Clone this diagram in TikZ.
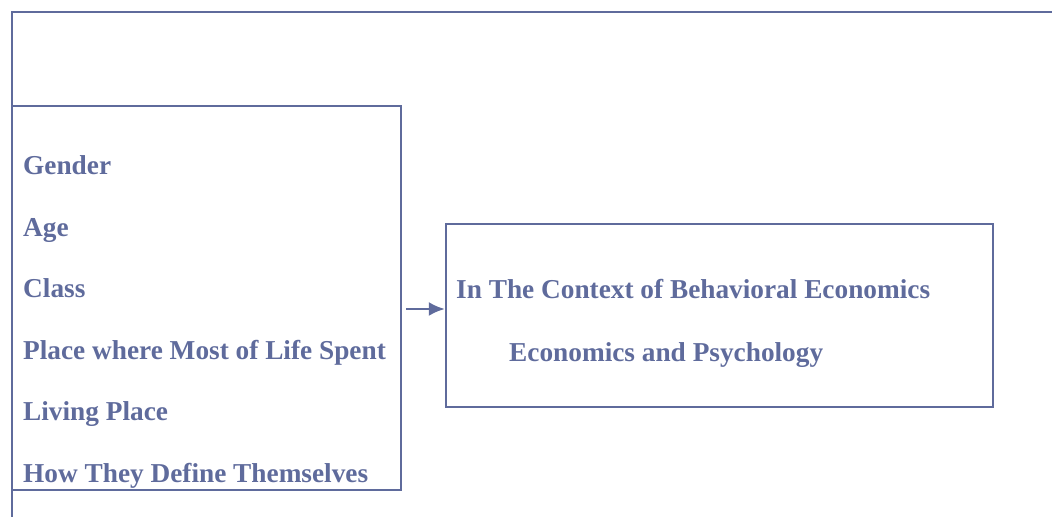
\documentclass[tikz,border=0pt]{standalone}
\usepackage{fontspec}
\setmainfont{Liberation Serif}
\usetikzlibrary{arrows.meta}
\definecolor{inkblue}{HTML}{5F6B9C}

\begin{document}
\begin{tikzpicture}[x=0.5pt, y=-0.5pt, line width=1.2pt,
  item/.style={anchor=base west, inner sep=0pt, text=inkblue, font=\fontsize{13.65}{16}\selectfont\bfseries},
  frame/.style={draw=inkblue, rectangle, inner sep=0pt}]
\useasboundingbox (0,0) rectangle (1052,517);
% outer frame, open at the right and bottom
\draw [inkblue] (12,517) -- (12,12) -- (1052,12);
% factor box and context box
\node [frame, minimum width=194.5pt, minimum height=192pt] (factors) at (206.5,298) {};
\node [frame, minimum width=273.5pt, minimum height=91.5pt] (context) at (719.5,315.5) {};
% the listed factors
\foreach \label [count=\i from 0] in {Gender, Age, Class, Place where Most of Life Spent, Living Place, How They Define Themselves}
  \node [item] (factor\i) at (22,{174.5+61.6*\i}) {\label};
\node [item] (ctx1) at (455,299) {In The Context of Behavioral Economics};
\node [item] (ctx2) at (508,361) {Economics and Psychology};
\coordinate (arrowy) at (0,309);
\draw [-{Latex[length=8pt,width=7pt]}, inkblue, shorten <=2pt] (factors.east |- arrowy) -- (context.west |- arrowy);
\end{tikzpicture}
\end{document}
